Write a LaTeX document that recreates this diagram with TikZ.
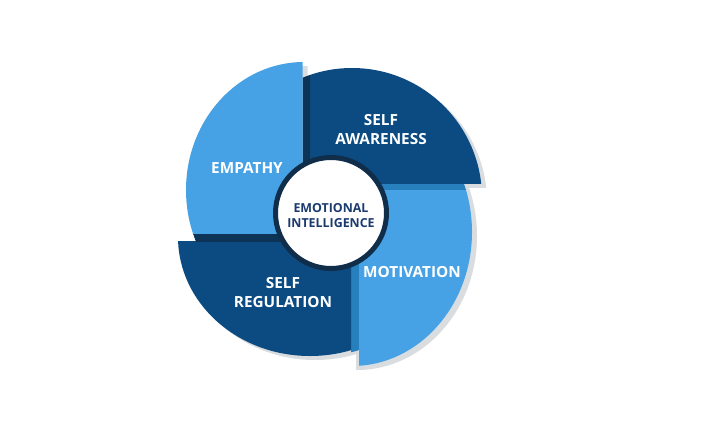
\documentclass[tikz,border=0pt]{standalone}
\usepackage{fontspec}
\setmainfont{Open Sans}
\usepackage{tikz}
\usetikzlibrary{positioning}

\definecolor{lightblade}{RGB}{70,162,228}
\definecolor{darkblade}{RGB}{11,75,130}
\definecolor{darkshade}{RGB}{13,52,86}
\definecolor{lightshade}{RGB}{40,127,190}
\definecolor{dropshadow}{RGB}{218,221,223}
\definecolor{ringnavy}{RGB}{16,45,74}
\definecolor{textnavy}{RGB}{27,58,110}

% formas de las aspas (centro y radios de cada arco)
\newcommand{\circE}{(304,190) ellipse[x radius=118, y radius=128]}
\newcommand{\circSA}{(352,198) circle[radius=130]}
\newcommand{\circM}{(352,232) ellipse[x radius=120, y radius=134]}
\newcommand{\circSR}{(310,237) ellipse[x radius=132, y radius=119]}

\begin{document}
\begin{tikzpicture}[
		x=0.75pt, y=-0.75pt,
		% --- ESTILOS ---
		blade_label/.style={
			text=white,
			font=\fontsize{11.5}{14.25}\selectfont\bfseries,
			align=center,
			inner sep=0pt
		},
		core_circle/.style={
			circle,
			draw=ringnavy,
			line width=3.75pt,
			fill=white,
			minimum size=83.25pt,
			inner sep=0pt
		},
		core_label/.style={
			text=textnavy,
			font=\fontsize{9.3}{11.6}\selectfont\bfseries,
			align=center,
			inner sep=0pt
		}
		]
		
		\useasboundingbox[fill=white] (0,0) rectangle (709,432);
		
		% --- SOMBRAS ---
		\begin{scope}[shift={(5,4)}]
			\begin{scope} \clip (351,183.5) rectangle (709,432); \fill[dropshadow] \circM; \end{scope}
			\begin{scope} \clip (0,241.5) rectangle (351,432); \fill[dropshadow] \circSR; \end{scope}
			\begin{scope} \clip (302.5,0) rectangle (709,183.5); \fill[dropshadow] \circSA; \end{scope}
			\begin{scope} \clip (0,0) rectangle (302.5,233); \fill[dropshadow] \circE; \end{scope}
		\end{scope}
		
		% --- ASPA: MOTIVATION ---
		\begin{scope} \clip (359,189.5) rectangle (709,432); \fill[lightblade] \circM; \end{scope}
		\begin{scope} \clip \circM; \fill[lightshade] (351,183.5) rectangle (709,189.5); \end{scope}
		\begin{scope}
			\clip (351,189.5) rectangle (359,432);
			\clip (318,237) ellipse[x radius=132, y radius=119];
			\fill[lightshade] (351,189.5) rectangle (359,432);
		\end{scope}
		
		% --- ASPA: SELF REGULATION ---
		\begin{scope} \clip (0,241.5) rectangle (351,432); \fill[darkblade] \circSR; \end{scope}
		\begin{scope} \clip \circE; \fill[darkshade] (0,233) rectangle (351,241.5); \end{scope}
		
		% --- ASPA: SELF AWARENESS ---
		\begin{scope} \clip (310,0) rectangle (709,183.5); \fill[darkblade] \circSA; \end{scope}
		\begin{scope} \clip (302.5,0) rectangle (310,183.5); \fill[darkshade] \circSA; \end{scope}
		
		% --- ASPA: EMPATHY ---
		\begin{scope} \clip (0,0) rectangle (302.5,233); \fill[lightblade] \circE; \end{scope}
		
		% --- CENTRO ---
		\node (core) [core_circle] at (331,213) {};
		\node (core_text) [core_label] at (331,215.5) {EMOTIONAL\\INTELLIGENCE};
		
		% --- ETIQUETAS ---
		\node (awareness) [blade_label] at (381,129.5) {SELF\\AWARENESS};
		\node (empathy) [blade_label] at (247,168) {EMPATHY};
		\node (regulation) [blade_label] at (283,293) {SELF\\REGULATION};
		\node (motivation) [blade_label] at (412,272) {MOTIVATION};
		
	\end{tikzpicture}
\end{document}
